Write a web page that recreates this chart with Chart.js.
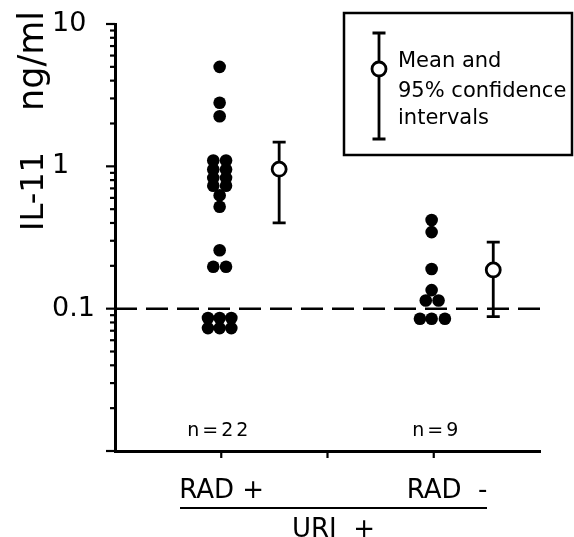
<!DOCTYPE html>
<html>
<head>
<meta charset="utf-8">
<script src="https://cdn.jsdelivr.net/npm/chart.js@4.4.1/dist/chart.umd.min.js"></script>
<style>
    html, body { margin: 0; padding: 0; background: #fff; }
</style>
</head>
<body>
<canvas id="chart" width="574" height="537"></canvas>
<script>
// RAD+ (URI+), n=22 : x = group position + small offset used in the figure
var radPosX = [0.985, 0.985, 0.985,
    0.925, 1.045, 0.925, 1.045, 0.925, 1.045, 0.925, 1.045,
    0.985, 0.985, 0.985, 0.925, 1.045,
    0.875, 0.985, 1.095, 0.875, 0.985, 1.095];
var radPosY = [5.0, 2.8, 2.25,
    1.1, 1.1, 0.95, 0.95, 0.83, 0.83, 0.73, 0.73,
    0.625, 0.52, 0.257, 0.197, 0.197,
    0.086, 0.086, 0.086, 0.073, 0.073, 0.073];

// RAD- (URI+), n=9
var radNegX = [2.98, 2.98, 2.98, 2.98, 2.925, 3.045, 2.87, 2.98, 3.105];
var radNegY = [0.42, 0.345, 0.19, 0.135, 0.114, 0.114, 0.085, 0.085, 0.085];

// mean and 95% confidence intervals
var meanX = [1.545, 3.56];
var meanY = [0.955, 0.187];
var ciLow = [0.40, 0.088];
var ciHigh = [1.48, 0.293];

var cutoff = 0.1;
var groupX = [1, 3];
var groupCounts = ['n=22', 'n=9'];
var categoryLabels = ['RAD +', 'RAD  -'];
var outerLabel = 'URI  +';
var xTicks = [1, 2, 3];

var yTicks = [0.01, 0.02, 0.03, 0.04, 0.05, 0.06, 0.07, 0.08, 0.09,
    0.1, 0.2, 0.3, 0.4, 0.5, 0.6, 0.7, 0.8, 0.9,
    1, 2, 3, 4, 5, 6, 7, 8, 9, 10];
var yMajorTicks = [0.01, 0.1, 1, 10];
var yLabelValues = [0.1, 1, 10];
var yLabelTexts = ['0.1', '1', '10'];

var FONT = '"DejaVu Sans", sans-serif';

function toPoints(xs, ys) {
    var pts = [];
    for (var i = 0; i < xs.length; i++) {
        pts.push({x: xs[i], y: ys[i]});
    }
    return pts;
}

// error bars, drawn before the mean circles
var errorBars = {
    id: 'errorBars',
    beforeDatasetsDraw: function(chart) {
        var ctx = chart.ctx, xs = chart.scales.x, ys = chart.scales.y;
        ctx.save();
        ctx.strokeStyle = '#000';
        ctx.lineWidth = 2.8;
        for (var i = 0; i < meanX.length; i++) {
            var px = xs.getPixelForValue(meanX[i]);
            var lo = ys.getPixelForValue(ciLow[i]);
            var hi = ys.getPixelForValue(ciHigh[i]);
            ctx.beginPath();
            ctx.moveTo(px, lo); ctx.lineTo(px, hi);
            ctx.moveTo(px - 6.5, lo); ctx.lineTo(px + 6.5, lo);
            ctx.moveTo(px - 6.5, hi); ctx.lineTo(px + 6.5, hi);
            ctx.stroke();
        }
        ctx.restore();
    }
};

// axis ticks, titles, counts and the legend box
var decorations = {
    id: 'decorations',
    afterDraw: function(chart) {
        var ctx = chart.ctx, xs = chart.scales.x, ys = chart.scales.y;
        var area = chart.chartArea;
        ctx.save();
        ctx.strokeStyle = '#000';
        ctx.fillStyle = '#000';
        ctx.lineWidth = 2.2;

        // y ticks (outside, minor shorter)
        yTicks.forEach(function(v) {
            var py = ys.getPixelForValue(v);
            var len = yMajorTicks.indexOf(v) >= 0 ? 9 : 5;
            ctx.beginPath();
            ctx.moveTo(area.left - len, py);
            ctx.lineTo(area.left, py);
            ctx.stroke();
        });

        // x ticks
        xTicks.forEach(function(v) {
            var px = xs.getPixelForValue(v);
            ctx.beginPath();
            ctx.moveTo(px, area.bottom);
            ctx.lineTo(px, area.bottom + 7);
            ctx.stroke();
        });

        // y title
        ctx.textAlign = 'left';
        ctx.textBaseline = 'alphabetic';
        ctx.save();
        ctx.translate(43, 231);
        ctx.rotate(-Math.PI / 2);
        ctx.font = '32px ' + FONT;
        ctx.fillText('IL-11', 0, 0);
        ctx.restore();
        ctx.save();
        ctx.translate(43, 111);
        ctx.rotate(-Math.PI / 2);
        ctx.font = '35px ' + FONT;
        ctx.fillText('ng/ml', 0, 0);
        ctx.restore();

        // group counts
        ctx.font = '19px ' + FONT;
        ctx.letterSpacing = '3px';
        ctx.textAlign = 'center';
        groupCounts.forEach(function(t, i) {
            ctx.fillText(t, xs.getPixelForValue(groupX[i]) - 2 + i * 5, 436);
        });
        ctx.letterSpacing = '0px';

        // category labels and grouping line
        ctx.font = '26px ' + FONT;
        ctx.textAlign = 'left';
        ctx.fillText(categoryLabels[0], xs.getPixelForValue(groupX[0]) - 42, 498);
        ctx.fillText(categoryLabels[1], xs.getPixelForValue(groupX[1]) - 27, 498);
        ctx.beginPath();
        ctx.moveTo(180, 508);
        ctx.lineTo(487, 508);
        ctx.stroke();
        ctx.textAlign = 'center';
        ctx.fillText(outerLabel, xs.getPixelForValue(2) + 6, 537);

        // legend box
        ctx.lineWidth = 2.5;
        ctx.strokeRect(344, 13, 228, 142);
        ctx.lineWidth = 2.8;
        ctx.beginPath();
        ctx.moveTo(379, 33); ctx.lineTo(379, 139);
        ctx.moveTo(372.5, 33); ctx.lineTo(385.5, 33);
        ctx.moveTo(372.5, 139); ctx.lineTo(385.5, 139);
        ctx.stroke();
        ctx.beginPath();
        ctx.arc(379, 69, 7, 0, Math.PI * 2);
        ctx.fillStyle = '#fff';
        ctx.fill();
        ctx.stroke();
        ctx.fillStyle = '#000';
        ctx.font = '21px ' + FONT;
        ctx.textAlign = 'left';
        ctx.fillText('Mean and', 398, 67);
        ctx.fillText('95% confidence', 398, 97);
        ctx.fillText('intervals', 398, 124);

        ctx.restore();
    }
};

var dotStyle = {
    type: 'scatter',
    pointRadius: 6.3,
    pointHoverRadius: 6.3,
    pointBackgroundColor: '#000',
    pointBorderWidth: 0,
    borderColor: '#000',
    showLine: false
};

new Chart(document.getElementById('chart').getContext('2d'), {
    type: 'scatter',
    data: {
        datasets: [
            Object.assign({label: 'RAD+', data: toPoints(radPosX, radPosY)}, dotStyle),
            Object.assign({label: 'RAD-', data: toPoints(radNegX, radNegY)}, dotStyle),
            {
                label: 'Mean',
                data: toPoints(meanX, meanY),
                pointRadius: 7,
                pointBackgroundColor: '#fff',
                pointBorderColor: '#000',
                pointBorderWidth: 2.8,
                showLine: false
            },
            {
                type: 'line',
                label: 'cutoff',
                data: [{x: 0, y: cutoff}, {x: 4.05, y: cutoff}],
                borderColor: '#000',
                borderWidth: 2.5,
                borderDash: [22, 9],
                pointRadius: 0,
                clip: false
            }
        ]
    },
    options: {
        responsive: false,
        animation: false,
        layout: {padding: {left: 52, top: 24, right: 34, bottom: 86}},
        plugins: {legend: {display: false}, tooltip: {enabled: false}},
        scales: {
            x: {
                type: 'linear',
                min: 0,
                max: 4,
                grid: {display: false},
                border: {display: true, color: '#000', width: 3},
                ticks: {display: false},
                afterFit: function(scale) { scale.height = 0; }
            },
            y: {
                type: 'logarithmic',
                min: 0.01,
                max: 10,
                grid: {display: false},
                border: {display: true, color: '#000', width: 3},
                afterBuildTicks: function(scale) {
                    scale.ticks = yTicks.map(function(v) { return {value: v}; });
                },
                afterFit: function(scale) { scale.width = 63; },
                ticks: {
                    autoSkip: false,
                    crossAlign: 'far',
                    color: '#000',
                    font: {family: FONT, size: 27},
                    callback: function(value) {
                        var i = yLabelValues.indexOf(value);
                        return i >= 0 ? yLabelTexts[i] : '';
                    }
                }
            }
        }
    },
    plugins: [errorBars, decorations]
});
</script>
</body>
</html>
